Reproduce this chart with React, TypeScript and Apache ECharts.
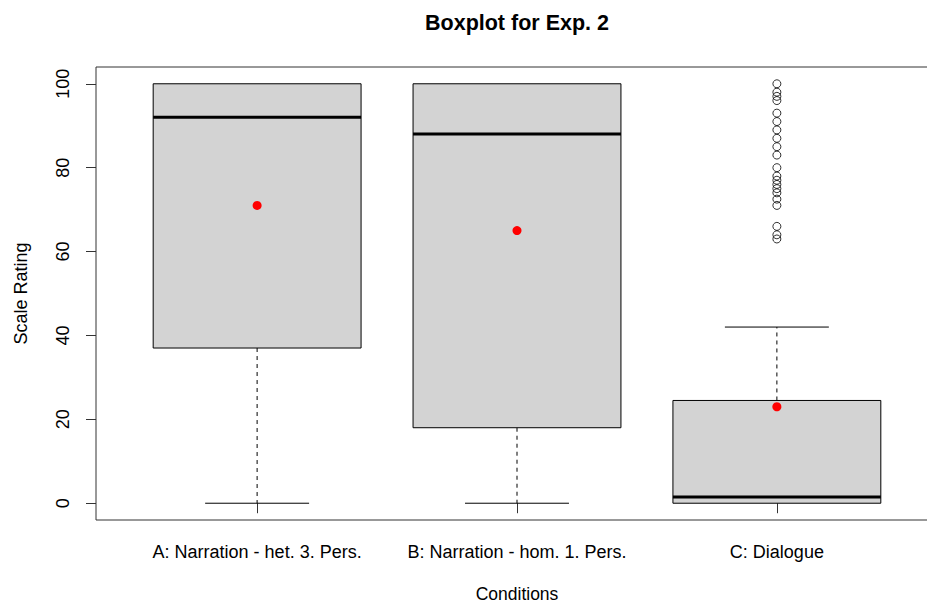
import React, { useEffect, useRef } from "react";
import * as echarts from "echarts";

const categories = ["A: Narration - het. 3. Pers.", "B: Narration - hom. 1. Pers.", "C: Dialogue"];
// [lower whisker, Q1, median, Q3, upper whisker]
const boxStats = [
  [0, 37, 92, 100, 100],
  [0, 18, 88, 100, 100],
  [0, 0, 1.5, 24.5, 42],
];
const means = [71, 65, 23];
const outliersC = [100, 98, 97, 96, 93, 91, 89, 87, 85, 83, 80, 78, 77, 76, 75, 74, 72.5, 71, 66, 64, 63];
const yTicks = [0, 20, 40, 60, 80, 100];

const FONT = "'Liberation Sans', Arial, Helvetica, sans-serif";

export default function App() {
  const ref = useRef<HTMLDivElement>(null);
  useEffect(() => {
    document.body.style.margin = "0";
    const chart = echarts.init(ref.current!, undefined, { renderer: "svg" });
    const boxData = boxStats.map((s, i) => [i + 1, ...s]);
    const option: any = {
      animation: false,
      backgroundColor: "#fff",
      textStyle: { fontFamily: FONT },
      graphic: [
        {
          type: "text",
          x: 517,
          y: 23,
          style: {
            text: "Boxplot for Exp. 2",
            align: "center",
            verticalAlign: "middle",
            font: `bold 21.5px ${FONT}`,
            fill: "#000",
          },
        },
      ],
      grid: {
        left: 96,
        top: 67,
        width: 842,
        height: 453,
        containLabel: false,
        outerBoundsMode: "none",
        show: true,
        borderColor: "#333",
        borderWidth: 1,
        backgroundColor: "transparent",
      },
      xAxis: {
        type: "value",
        min: 0.38,
        max: 3.62,
        splitLine: { show: false },
        axisLine: { show: false },
        axisTick: { show: true, length: 10, customValues: [1, 2, 3], lineStyle: { color: "#333" } },
        axisLabel: {
          customValues: [1, 2, 3],
          formatter: (v: number) => categories[Math.round(v) - 1] ?? "",
          fontSize: 18,
          color: "#000",
          margin: 23,
          fontFamily: FONT,
        },
        name: "Conditions",
        nameLocation: "middle",
        nameGap: 65,
        nameTextStyle: { fontSize: 17.5, color: "#000", fontFamily: FONT },
      },
      yAxis: {
        type: "value",
        min: -4,
        max: 104,
        splitLine: { show: false },
        axisLine: { show: false },
        axisTick: { show: true, length: 10, customValues: yTicks, lineStyle: { color: "#333" } },
        axisLabel: {
          customValues: yTicks,
          rotate: 90,
          fontSize: 18,
          color: "#000",
          margin: 24,
          fontFamily: FONT,
        },
        name: "Scale Rating",
        nameLocation: "middle",
        nameRotate: 90,
        nameGap: 66,
        nameTextStyle: { fontSize: 18, color: "#000", fontFamily: FONT },
      },
      series: [
        {
          type: "custom",
          data: boxData,
          encode: { x: 0, y: [1, 2, 3, 4, 5] },
          renderItem: (params: any, api: any) => {
            const x = api.value(0);
            const lo = api.value(1);
            const q1 = api.value(2);
            const med = api.value(3);
            const q3 = api.value(4);
            const hi = api.value(5);
            const halfBox = 0.4;
            const halfCap = 0.2;
            const pL = api.coord([x - halfBox, q3]);
            const pR = api.coord([x + halfBox, q1]);
            const cx = api.coord([x, 0])[0];
            const capL = api.coord([x - halfCap, 0])[0];
            const capR = api.coord([x + halfCap, 0])[0];
            const yLo = api.coord([x, lo])[1];
            const yQ1 = api.coord([x, q1])[1];
            const yMed = api.coord([x, med])[1];
            const yQ3 = api.coord([x, q3])[1];
            const yHi = api.coord([x, hi])[1];
            const dash = { stroke: "#000", lineWidth: 1, lineDash: [4, 4] };
            const solid = { stroke: "#000", lineWidth: 1 };
            const children: any[] = [];
            if (q1 > lo) {
              children.push({ type: "line", shape: { x1: cx, y1: yQ1, x2: cx, y2: yLo }, style: dash });
              children.push({ type: "line", shape: { x1: capL, y1: yLo, x2: capR, y2: yLo }, style: solid });
            }
            if (hi > q3) {
              children.push({ type: "line", shape: { x1: cx, y1: yQ3, x2: cx, y2: yHi }, style: dash });
              children.push({ type: "line", shape: { x1: capL, y1: yHi, x2: capR, y2: yHi }, style: solid });
            }
            children.push({
              type: "rect",
              shape: { x: pL[0], y: pL[1], width: pR[0] - pL[0], height: pR[1] - pL[1] },
              style: { fill: "#d3d3d3", stroke: "#000", lineWidth: 1 },
            });
            children.push({
              type: "line",
              shape: { x1: pL[0], y1: yMed, x2: pR[0], y2: yMed },
              style: { stroke: "#000", lineWidth: 3 },
            });
            return { type: "group", children };
          },
          z: 2,
        },
        {
          type: "scatter",
          data: outliersC.map((v) => [3, v]),
          symbol: "circle",
          symbolSize: 8,
          itemStyle: { color: "transparent", borderColor: "#000", borderWidth: 1 },
          z: 3,
        },
        {
          type: "scatter",
          data: means.map((v, i) => [i + 1, v]),
          symbol: "circle",
          symbolSize: 9,
          itemStyle: { color: "#ff0000", borderWidth: 0, opacity: 1 },
          emphasis: { disabled: true },
          z: 4,
        },
      ],
    };
    chart.setOption(option);
    return () => chart.dispose();
  }, []);
  return <div ref={ref} style={{ width: 927, height: 603 }} />;
}
